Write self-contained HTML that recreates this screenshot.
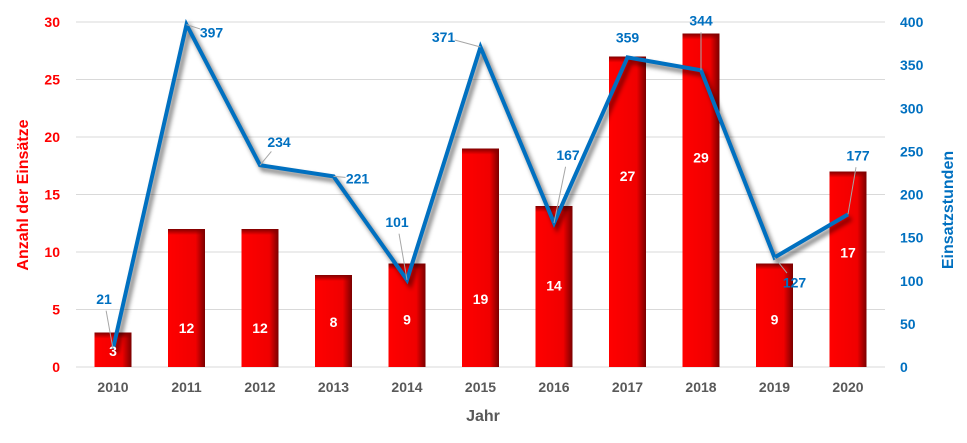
<!DOCTYPE html>
<html><head><meta charset="utf-8"><style>
body{margin:0;background:#fff;width:967px;height:438px;overflow:hidden;font-family:"Liberation Sans",sans-serif}
text{font-family:"Liberation Sans",sans-serif;font-weight:bold}
</style></head><body>
<svg id="chart" width="967" height="438" xmlns="http://www.w3.org/2000/svg">
<defs>
<linearGradient id="barg" x1="0" x2="1" y1="0" y2="0">
<stop offset="0" stop-color="#ff0000"/><stop offset="0.75" stop-color="#f00000"/><stop offset="1" stop-color="#7a0000"/>
</linearGradient>
<linearGradient id="bartop" x1="0" x2="0" y1="0" y2="1">
<stop offset="0" stop-color="#800000"/><stop offset="1" stop-color="#800000" stop-opacity="0"/>
</linearGradient>
<filter id="sh" x="-10%" y="-10%" width="120%" height="130%"><feGaussianBlur stdDeviation="2"/></filter>
</defs>
<g id="grid"></g><g id="bars"></g><g id="line"></g><g id="labels"></g>
</svg>
<script>
const years=['2010','2011','2012','2013','2014','2015','2016','2017','2018','2019','2020'];
const einsaetze=[3,12,12,8,9,19,14,27,29,9,17];
const stunden=[21,397,234,221,101,371,167,359,344,127,177];
const leftTicks=[0,5,10,15,20,25,30];
const rightTicks=[0,50,100,150,200,250,300,350,400];
const barLabelDy=[0,29,29,0,3,40,-2,-37,-44,3,-18];
const lineLabelOff=[[-9,-50],[25,8],[19,-23],[24,2],[-10,-58],[-37,-10],[14,-68],[0,-20],[0,-50],[20,25],[10,-59]];
const NS='http://www.w3.org/2000/svg';
const y0=367,yTop=22;
const xS=i=>113+i*73.5;
const yL=v=>y0-v*(y0-yTop)/30;
const yR=v=>y0-v*(y0-yTop)/400;
function mk(tag,attrs,parent,txt){const e=document.createElementNS(NS,tag);for(const k in attrs)e.setAttribute(k,attrs[k]);if(txt!==undefined)e.textContent=txt;parent.appendChild(e);return e;}
const svg=document.getElementById('chart');
const grid=document.getElementById('grid'),bars=document.getElementById('bars'),line=document.getElementById('line'),labels=document.getElementById('labels');
leftTicks.forEach(t=>{
 const g=mk('line',{x1:76,x2:885,y1:yL(t),y2:yL(t),stroke:'#d9d9d9','stroke-width':1},grid);
 
 
 const l=mk('text',{x:60,y:yL(t)+5,'text-anchor':'end','font-size':14,fill:'#ff0000'},labels,t);
 
 
});
rightTicks.forEach(t=>{
 const l=mk('text',{x:900,y:yR(t)+5,'text-anchor':'start','font-size':14,fill:'#0070c0'},labels,t);
 
 
});
years.forEach((yr,i)=>{
 const x=xS(i),w=37,top=yL(einsaetze[i]);
 const r=mk('rect',{x:x-w/2,y:top,width:w,height:y0-top,fill:'url(#barg)'},bars);
 
 
 mk('rect',{x:x-w/2,y:top,width:w,height:6,fill:'url(#bartop)'},bars);
 const bl=mk('text',{x:x,y:(top+y0)/2+6+barLabelDy[i],'text-anchor':'middle','font-size':14,fill:'#fff'},labels,einsaetze[i]);
 
 
 const xl=mk('text',{x:x,y:392,'text-anchor':'middle','font-size':14,fill:'#595959'},labels,yr);
 
 
});
const pts=stunden.map((v,i)=>xS(i)+','+yR(v)).join(' ');
mk('polyline',{points:pts,fill:'none',stroke:'#000','stroke-opacity':0.45,'stroke-width':5,transform:'translate(3,4)',filter:'url(#sh)'},line);
const pl=mk('polyline',{points:pts,fill:'none',stroke:'#0070c0','stroke-width':4,'stroke-linejoin':'miter'},line);


stunden.forEach((v,i)=>{
 const x=xS(i),y=yR(v),[dx,dy]=lineLabelOff[i];
 const d=Math.hypot(dx,dy);
 if(d>20){mk('line',{x1:x,y1:y,x2:x+dx*(d-12)/d,y2:y+dy*(d-12)/d,stroke:'#a6a6a6','stroke-width':1},labels);}
 const t=mk('text',{x:x+dx,y:y+dy+5,'text-anchor':'middle','font-size':14,fill:'#0070c0'},labels,v);
 
 
});
const a1=mk('text',{x:0,y:0,'text-anchor':'middle','font-size':16,fill:'#ff0000',transform:'translate(28,195) rotate(-90)'},labels,'Anzahl der Einsätze');


const a2=mk('text',{x:0,y:0,'text-anchor':'middle','font-size':16,fill:'#0070c0',transform:'translate(953,210) rotate(-90)'},labels,'Einsatzstunden');


const a3=mk('text',{x:483,y:421,'text-anchor':'middle','font-size':16,fill:'#595959'},labels,'Jahr');


</script>
</body></html>
